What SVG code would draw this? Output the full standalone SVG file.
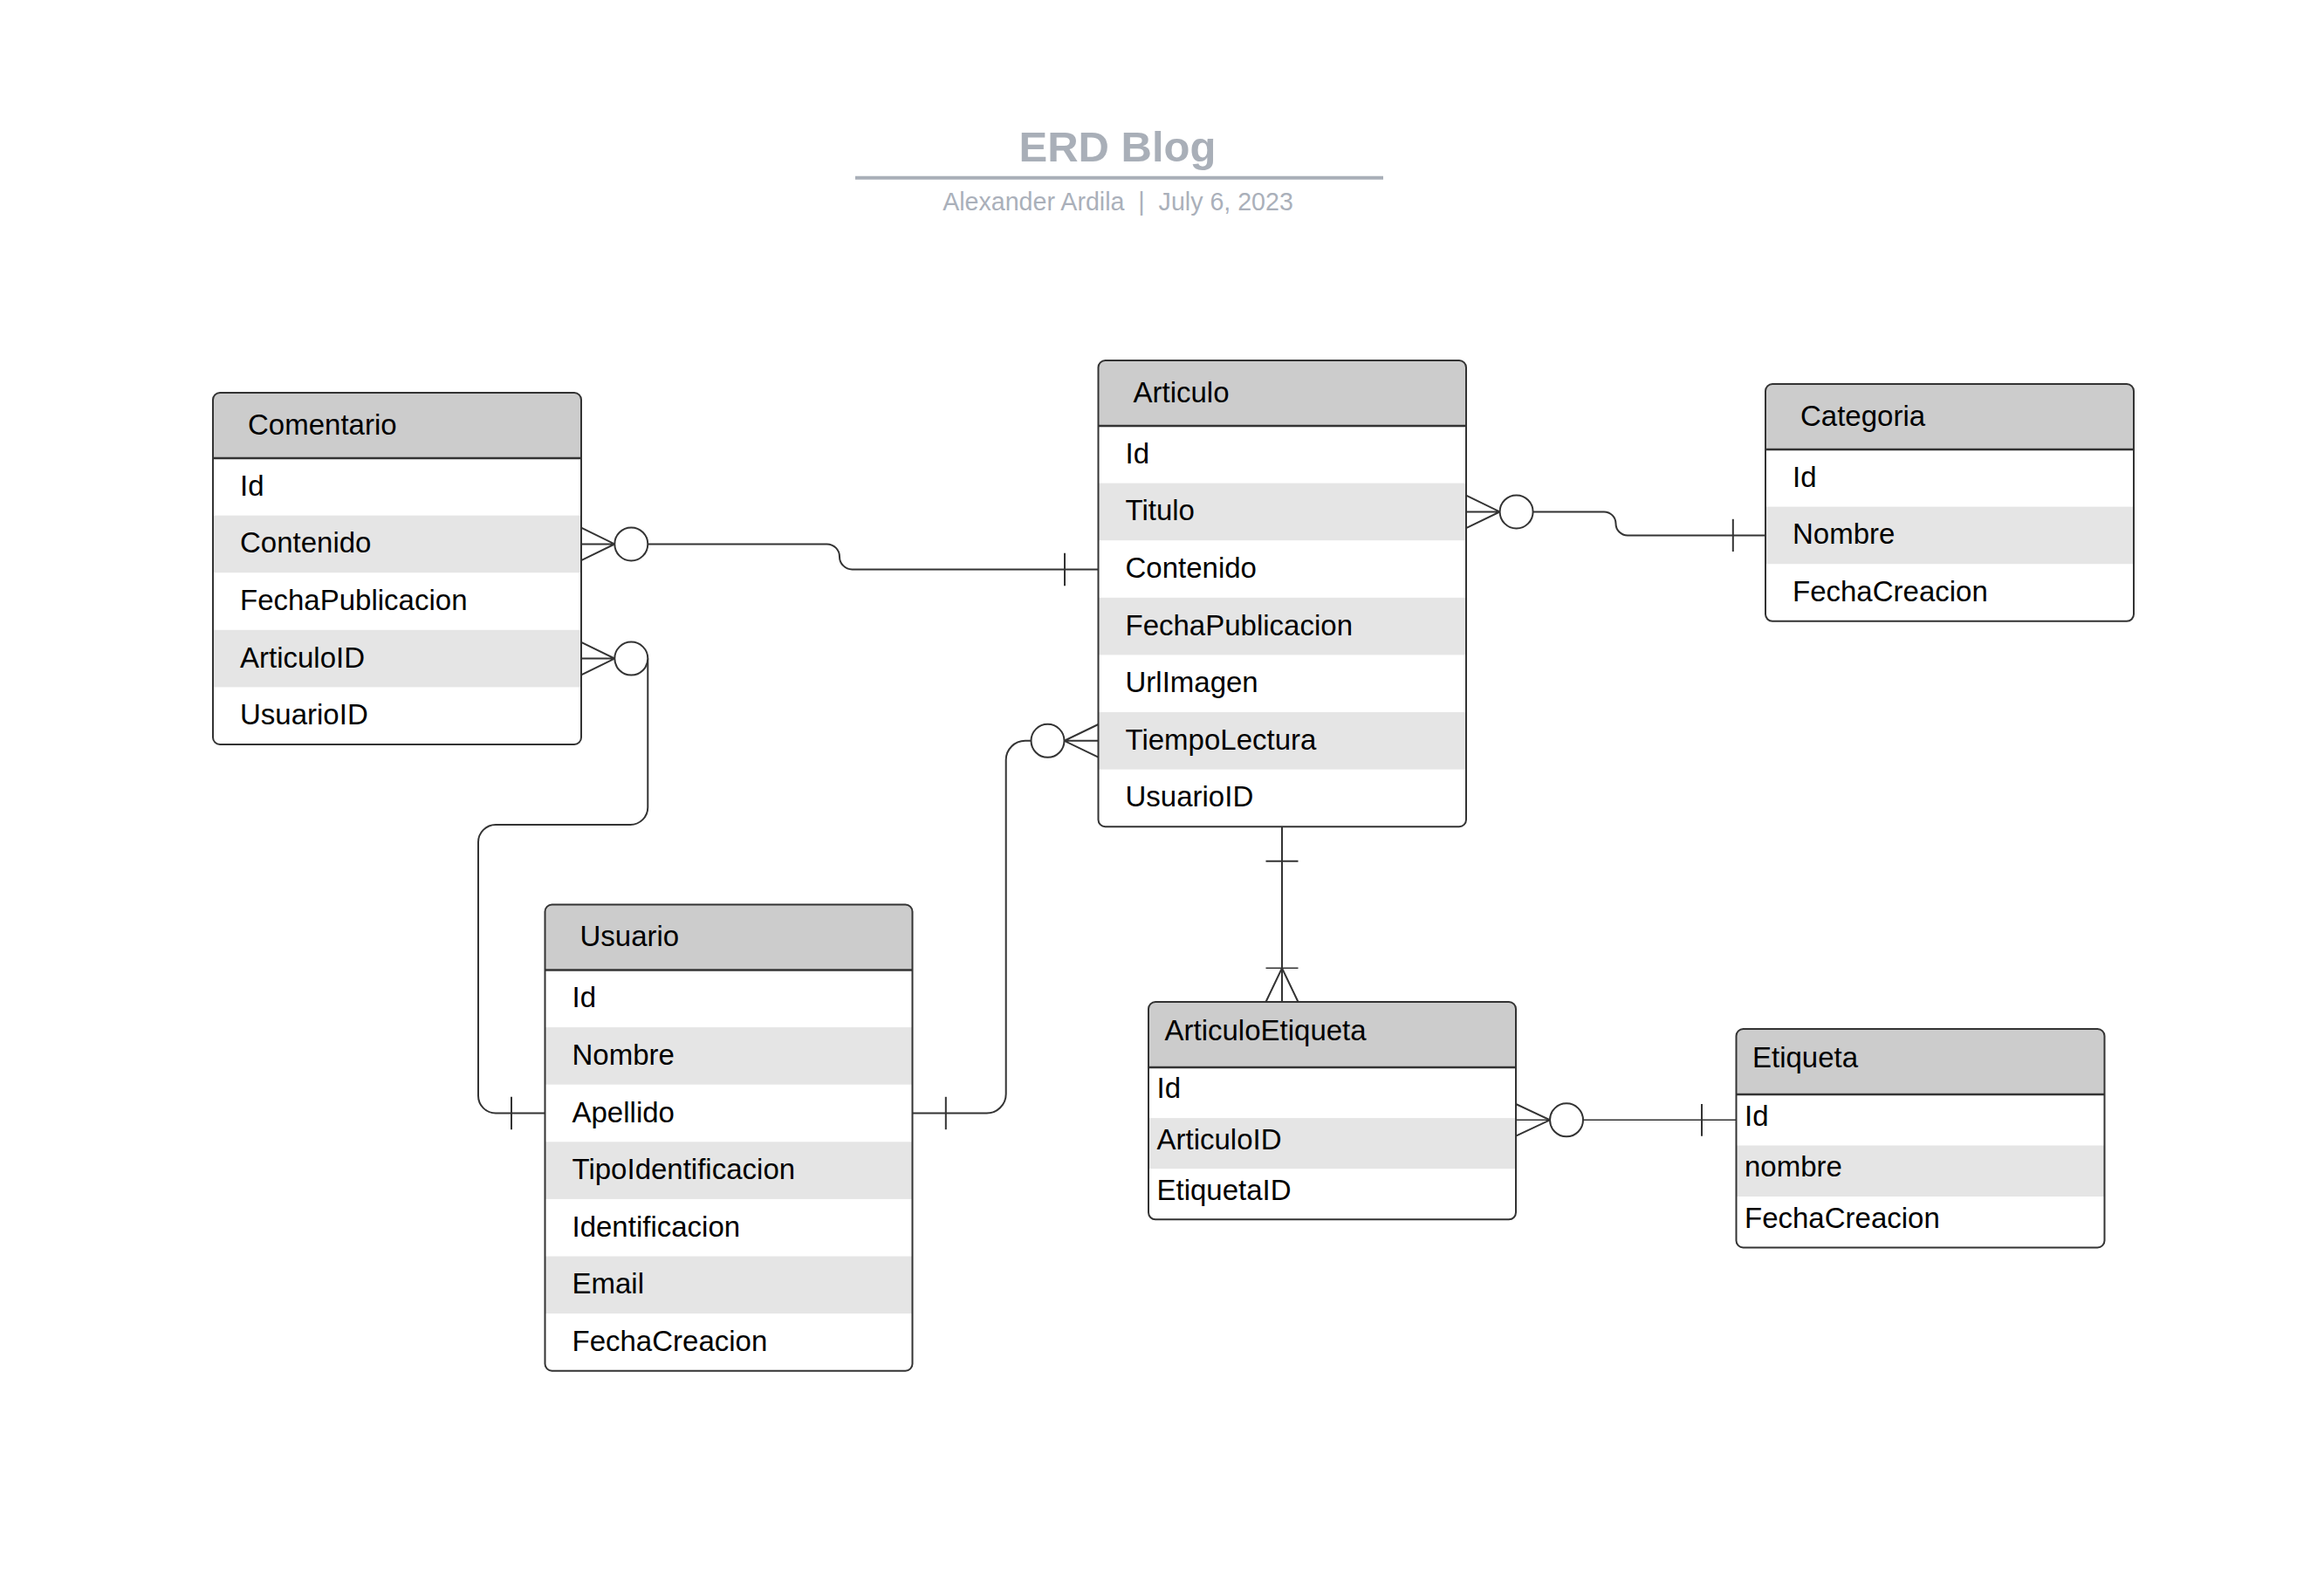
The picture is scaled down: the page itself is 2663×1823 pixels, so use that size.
<svg xmlns="http://www.w3.org/2000/svg" width="2663" height="1823" viewBox="0 0 2663 1823">
<style>
.bg{fill:#ffffff}
.hdr{fill:#cccccc}
.alt{fill:#e5e5e5}
.border{fill:none;stroke:#333333;stroke-width:2}
.sep{stroke:#333333;stroke-width:2.5}
.t{font-family:"Liberation Sans",Arial,sans-serif;font-size:33px;fill:#000000}
.ln{fill:none;stroke:#333333;stroke-width:2}
.thin{fill:none;stroke:#333333;stroke-width:1.5}
.circ{fill:#ffffff;stroke:#333333;stroke-width:2}
.title{font-family:"Liberation Sans",Arial,sans-serif;font-size:49px;font-weight:bold;fill:#a9afb8}
.sub{font-family:"Liberation Sans",Arial,sans-serif;font-size:28.6px;fill:#aab0ba;white-space:pre}
</style>
<rect x="0" y="0" width="2663" height="1823" fill="#ffffff"/>
<g id="title">
<text class="title" x="1280.5" y="184.5" text-anchor="middle">ERD Blog</text>
<line x1="980" y1="203.7" x2="1585" y2="203.7" stroke="#a9afb8" stroke-width="4"/>
<text class="sub" x="1281" y="240.7" text-anchor="middle" xml:space="preserve">Alexander Ardila  |  July 6, 2023</text>
</g>

<g id="Comentario">
<rect class="bg" x="244" y="450" width="422" height="403" rx="8"/>
<path class="hdr" d="M244 525 V458 A8 8 0 0 1 252 450 H658 A8 8 0 0 1 666 458 V525 Z"/>
<rect class="alt" x="244" y="590.6" width="422" height="65.6"/>
<rect class="alt" x="244" y="721.8" width="422" height="65.6"/>
<line class="sep" x1="244" y1="525" x2="666" y2="525"/>
<rect class="border" x="244" y="450" width="422" height="403" rx="8"/>
<text class="t" x="284" y="497.5">Comentario</text>
<text class="t" x="275" y="567.8">Id</text>
<text class="t" x="275" y="633.4">Contenido</text>
<text class="t" x="275" y="699">FechaPublicacion</text>
<text class="t" x="275" y="764.6">ArticuloID</text>
<text class="t" x="275" y="830.2">UsuarioID</text>
</g>

<g id="Articulo">
<rect class="bg" x="1258.5" y="413" width="421.5" height="534.2" rx="8"/>
<path class="hdr" d="M1258.5 488 V421 A8 8 0 0 1 1266.5 413 H1672 A8 8 0 0 1 1680 421 V488 Z"/>
<rect class="alt" x="1258.5" y="553.6" width="421.5" height="65.6"/>
<rect class="alt" x="1258.5" y="684.8" width="421.5" height="65.6"/>
<rect class="alt" x="1258.5" y="816" width="421.5" height="65.6"/>
<line class="sep" x1="1258.5" y1="488" x2="1680" y2="488"/>
<rect class="border" x="1258.5" y="413" width="421.5" height="534.2" rx="8"/>
<text class="t" x="1298.5" y="460.5">Articulo</text>
<text class="t" x="1289.5" y="530.8">Id</text>
<text class="t" x="1289.5" y="596.4">Titulo</text>
<text class="t" x="1289.5" y="662">Contenido</text>
<text class="t" x="1289.5" y="727.6">FechaPublicacion</text>
<text class="t" x="1289.5" y="793.2">UrlImagen</text>
<text class="t" x="1289.5" y="858.8">TiempoLectura</text>
<text class="t" x="1289.5" y="924.4">UsuarioID</text>
</g>

<g id="Categoria">
<rect class="bg" x="2023" y="440" width="422" height="271.8" rx="8"/>
<path class="hdr" d="M2023 515 V448 A8 8 0 0 1 2031 440 H2437 A8 8 0 0 1 2445 448 V515 Z"/>
<rect class="alt" x="2023" y="580.6" width="422" height="65.6"/>
<line class="sep" x1="2023" y1="515" x2="2445" y2="515"/>
<rect class="border" x="2023" y="440" width="422" height="271.8" rx="8"/>
<text class="t" x="2063" y="487.5">Categoria</text>
<text class="t" x="2054" y="557.8">Id</text>
<text class="t" x="2054" y="623.4">Nombre</text>
<text class="t" x="2054" y="689">FechaCreacion</text>
</g>

<g id="Usuario">
<rect class="bg" x="624.5" y="1036.5" width="421" height="534.2" rx="8"/>
<path class="hdr" d="M624.5 1111.5 V1044.5 A8 8 0 0 1 632.5 1036.5 H1037.5 A8 8 0 0 1 1045.5 1044.5 V1111.5 Z"/>
<rect class="alt" x="624.5" y="1177.1" width="421" height="65.6"/>
<rect class="alt" x="624.5" y="1308.3" width="421" height="65.6"/>
<rect class="alt" x="624.5" y="1439.5" width="421" height="65.6"/>
<line class="sep" x1="624.5" y1="1111.5" x2="1045.5" y2="1111.5"/>
<rect class="border" x="624.5" y="1036.5" width="421" height="534.2" rx="8"/>
<text class="t" x="664.5" y="1084">Usuario</text>
<text class="t" x="655.5" y="1154.3">Id</text>
<text class="t" x="655.5" y="1219.9">Nombre</text>
<text class="t" x="655.5" y="1285.5">Apellido</text>
<text class="t" x="655.5" y="1351.1">TipoIdentificacion</text>
<text class="t" x="655.5" y="1416.7">Identificacion</text>
<text class="t" x="655.5" y="1482.3">Email</text>
<text class="t" x="655.5" y="1547.9">FechaCreacion</text>
</g>

<g id="ArticuloEtiqueta">
<rect class="bg" x="1316" y="1148" width="421" height="249.3" rx="8"/>
<path class="hdr" d="M1316 1223 V1156 A8 8 0 0 1 1324 1148 H1729 A8 8 0 0 1 1737 1156 V1223 Z"/>
<rect class="alt" x="1316" y="1281.1" width="421" height="58.1"/>
<line class="sep" x1="1316" y1="1223" x2="1737" y2="1223"/>
<rect class="border" x="1316" y="1148" width="421" height="249.3" rx="8"/>
<text class="t" x="1334.5" y="1191.7">ArticuloEtiqueta</text>
<text class="t" x="1325.5" y="1258.3">Id</text>
<text class="t" x="1325.5" y="1316.5">ArticuloID</text>
<text class="t" x="1325.5" y="1374.6">EtiquetaID</text>
</g>

<g id="Etiqueta">
<rect class="bg" x="1989.5" y="1179" width="422" height="250.5" rx="8"/>
<path class="hdr" d="M1989.5 1254 V1187 A8 8 0 0 1 1997.5 1179 H2403.5 A8 8 0 0 1 2411.5 1187 V1254 Z"/>
<rect class="alt" x="1989.5" y="1312.5" width="422" height="58.5"/>
<line class="sep" x1="1989.5" y1="1254" x2="2411.5" y2="1254"/>
<rect class="border" x="1989.5" y="1179" width="422" height="250.5" rx="8"/>
<text class="t" x="2008" y="1223.3">Etiqueta</text>
<text class="t" x="1999" y="1289.5">Id</text>
<text class="t" x="1999" y="1348">nombre</text>
<text class="t" x="1999" y="1406.5">FechaCreacion</text>
</g>

<g id="connectors">
<path class="ln" d="M742.3 623.4 H947.5 A14.5 14.5 0 0 1 962 637.9 A14.5 14.5 0 0 0 976.5 652.4 H1258.5"/>
<path class="ln" d="M666 604.6 L704.3 623.4 L666 642.2 M666 623.4 H704.3"/>
<circle class="circ" cx="723.3" cy="623.4" r="19"/>
<line class="ln" x1="1220" y1="633.7" x2="1220" y2="671.3"/>

<path class="ln" d="M742.3 754.6 V925 A20 20 0 0 1 722.3 945 H568 A20 20 0 0 0 548 965 V1255.5 A20 20 0 0 0 568 1275.5 H624.5"/>
<path class="ln" d="M666 735.8 L704.3 754.6 L666 773.4 M666 754.6 H704.3"/>
<circle class="circ" cx="723.3" cy="754.6" r="19"/>
<line class="ln" x1="586" y1="1256.8" x2="586" y2="1294.2"/>

<path class="ln" d="M1045.5 1275.5 H1130.7 A22 22 0 0 0 1152.7 1253.5 V870.8 A22 22 0 0 1 1174.7 848.8 H1181.5"/>
<line class="ln" x1="1083.8" y1="1256.8" x2="1083.8" y2="1294.2"/>
<path class="ln" d="M1258.5 830 L1219.5 848.8 L1258.5 867.6 M1258.5 848.8 H1219.5"/>
<circle class="circ" cx="1200.5" cy="848.8" r="19"/>

<path class="ln" d="M1756.6 586.4 H1838 A13.5 13.5 0 0 1 1851.5 599.9 A13.5 13.5 0 0 0 1865 613.4 H2023"/>
<path class="ln" d="M1680 567.6 L1718.6 586.4 L1680 605.2 M1680 586.4 H1718.6"/>
<circle class="circ" cx="1737.6" cy="586.4" r="19"/>
<line class="ln" x1="1985.8" y1="594.8" x2="1985.8" y2="632"/>

<line class="ln" x1="1469" y1="947.2" x2="1469" y2="1148"/>
<line class="ln" x1="1450.5" y1="986.7" x2="1487.5" y2="986.7"/>
<line class="thin" x1="1450.5" y1="1109.3" x2="1487.5" y2="1109.3"/>
<path class="ln" d="M1450.5 1148 L1469 1109.3 L1487.5 1148"/>

<path class="ln" d="M1737 1265 L1776 1283.3 L1737 1301.7"/>
<line class="thin" x1="1737" y1="1283.3" x2="1776" y2="1283.3"/>
<circle class="circ" cx="1795" cy="1283.3" r="19"/>
<line class="thin" x1="1814" y1="1283.3" x2="1989.5" y2="1283.3"/>
<line class="ln" x1="1950" y1="1265" x2="1950" y2="1301.7"/>
</g>
</svg>
